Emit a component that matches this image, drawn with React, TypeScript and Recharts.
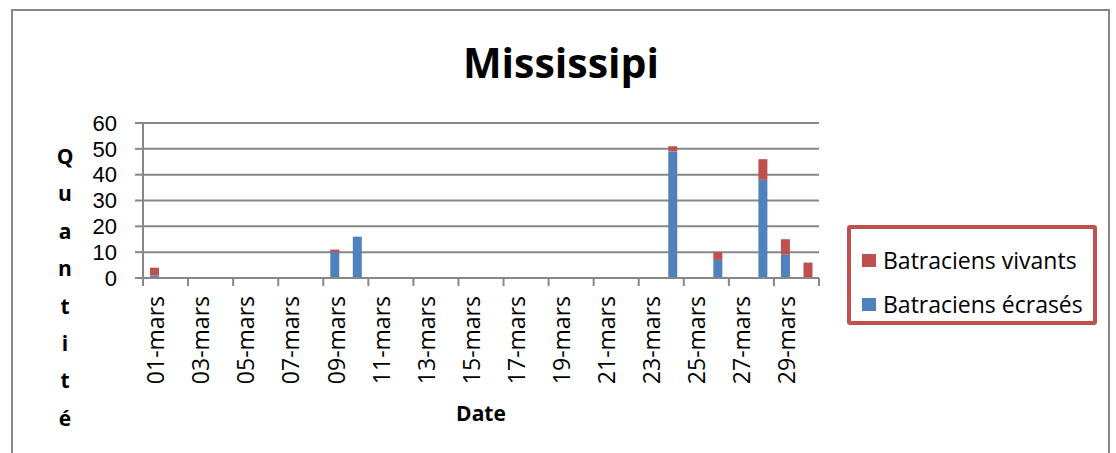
import React from 'react';
import { BarChart, Bar, XAxis, YAxis, CartesianGrid, Label } from 'recharts';

// days of march
const categories = [
    '01-mars', '02-mars', '03-mars', '04-mars', '05-mars', '06-mars', '07-mars', '08-mars', '09-mars', '10-mars',
    '11-mars', '12-mars', '13-mars', '14-mars', '15-mars', '16-mars', '17-mars', '18-mars', '19-mars', '20-mars',
    '21-mars', '22-mars', '23-mars', '24-mars', '25-mars', '26-mars', '27-mars', '28-mars', '29-mars', '30-mars',
];

const ecrases = [1, 0, 0, 0, 0, 0, 0, 0, 10, 16, 0, 0, 0, 0, 0, 0, 0, 0, 0, 0, 0, 0, 0, 49, 0, 7, 0, 38, 9, 0];
const vivants = [3, 0, 0, 0, 0, 0, 0, 0, 1, 0, 0, 0, 0, 0, 0, 0, 0, 0, 0, 0, 0, 0, 0, 2, 0, 3, 0, 8, 6, 6];

const yTicks = [0, 10, 20, 30, 40, 50, 60];

const title = 'Mississipi';
const xTitle = 'Date';
const yTitle = 'Quantité';

const seriesEcrases = { key: 'ecrases', name: 'Batraciens écrasés', color: '#4f81bd' };
const seriesVivants = { key: 'vivants', name: 'Batraciens vivants', color: '#c0504d' };
const legendItems = [seriesVivants, seriesEcrases];

const data = categories.map((date, i) => ({ date, ecrases: ecrases[i], vivants: vivants[i] }));

const FONT = "'Open Sans', sans-serif";
const GRID = '#878787';
const W = 1116;
const H = 453;
const PLOT_LEFT = 143;
const PLOT_RIGHT = 819;
const PLOT_TOP = 123;
const PLOT_BOTTOM = 278;
const BAND = (PLOT_RIGHT - PLOT_LEFT) / categories.length;

const DateTick = (props: any) => {
    const { x, y, payload } = props;
    const left = x - BAND / 2;
    const isLast = payload.value === categories[categories.length - 2];
    return (
        <g>
            <line x1={left} x2={left} y1={PLOT_BOTTOM} y2={PLOT_BOTTOM + 8} stroke={GRID} strokeWidth={2} />
            {isLast && (
                <line
                    x1={x + BAND * 1.5}
                    x2={x + BAND * 1.5}
                    y1={PLOT_BOTTOM}
                    y2={PLOT_BOTTOM + 8}
                    stroke={GRID}
                    strokeWidth={2}
                />
            )}
            <text
                x={x + 1}
                y={y}
                transform={`rotate(-90, ${x + 1}, ${y})`}
                textAnchor="end"
                dominantBaseline="central"
                fontFamily={FONT}
                fontSize={23}
                fill="#000"
            >
                {payload.value}
            </text>
        </g>
    );
};

const renderYTitle = () => (
    <text x={65} y={156} textAnchor="middle" fontFamily={FONT} fontSize={21} fontWeight="bold" fill="#000">
        {yTitle.split('').map((ch, i) => (
            <tspan key={i} x={65} y={156 + i * 37.4} dominantBaseline="central">
                {ch}
            </tspan>
        ))}
    </text>
);

export default function App() {
    return (
        <div style={{ position: 'absolute', left: 0, top: 0, width: W, height: H, overflow: 'hidden', background: '#fff', fontFamily: FONT }}>
            <div
                style={{
                    position: 'absolute',
                    left: 11,
                    top: 9,
                    width: 1099,
                    height: 470,
                    boxSizing: 'border-box',
                    border: `2px solid ${GRID}`,
                }}
            />
            <div
                style={{
                    position: 'absolute',
                    left: 0,
                    top: 34,
                    width: 1122,
                    textAlign: 'center',
                    fontSize: 41,
                    fontWeight: 'bold',
                    lineHeight: '56px',
                    color: '#000',
                }}
            >
                {title}
            </div>
            <div style={{ position: 'absolute', left: 0, top: 0 }}>
                <BarChart
                    width={W}
                    height={H}
                    data={data}
                    margin={{ top: PLOT_TOP, right: W - PLOT_RIGHT, left: PLOT_LEFT - 60, bottom: 0 }}
                    barSize={9}
                >
                    <CartesianGrid vertical={false} stroke={GRID} strokeWidth={2} />
                    <XAxis
                        dataKey="date"
                        interval={1}
                        height={H - PLOT_BOTTOM}
                        tickLine={false}
                        tickSize={8}
                        tickMargin={10}
                        axisLine={{ stroke: GRID, strokeWidth: 2 }}
                        tick={<DateTick />}
                    >
                        <Label
                            value={xTitle}
                            position="insideBottom"
                            offset={32}
                            style={{ fontFamily: FONT, fontSize: 21, fontWeight: 'bold', fill: '#000' }}
                        />
                    </XAxis>
                    <YAxis
                        width={60}
                        domain={[0, 60]}
                        ticks={yTicks}
                        interval={0}
                        tickSize={8}
                        tickMargin={18}
                        axisLine={{ stroke: GRID, strokeWidth: 2 }}
                        tickLine={{ stroke: GRID, strokeWidth: 2 }}
                        tick={{ fontFamily: "'Liberation Sans', sans-serif", fontSize: 22, fill: '#000' }}
                    >
                        <Label content={renderYTitle} />
                    </YAxis>
                    <Bar
                        dataKey={seriesEcrases.key}
                        name={seriesEcrases.name}
                        stackId="a"
                        fill={seriesEcrases.color}
                        isAnimationActive={false}
                    />
                    <Bar
                        dataKey={seriesVivants.key}
                        name={seriesVivants.name}
                        stackId="a"
                        fill={seriesVivants.color}
                        isAnimationActive={false}
                    />
                </BarChart>
            </div>
            <div
                style={{
                    position: 'absolute',
                    left: 847,
                    top: 225,
                    width: 250,
                    height: 100,
                    boxSizing: 'border-box',
                    border: '4px solid #c0504d',
                    borderRadius: 3,
                    background: '#fff',
                    padding: '9px 0 0 11px',
                }}
            >
                {legendItems.map((item) => (
                    <div key={item.key} style={{ display: 'flex', alignItems: 'center', height: 44 }}>
                        <span style={{ display: 'inline-block', width: 14, height: 13, background: item.color, marginRight: 7 }} />
                        <span style={{ fontSize: 23, color: '#000', whiteSpace: 'nowrap' }}>{item.name}</span>
                    </div>
                ))}
            </div>
        </div>
    );
}
